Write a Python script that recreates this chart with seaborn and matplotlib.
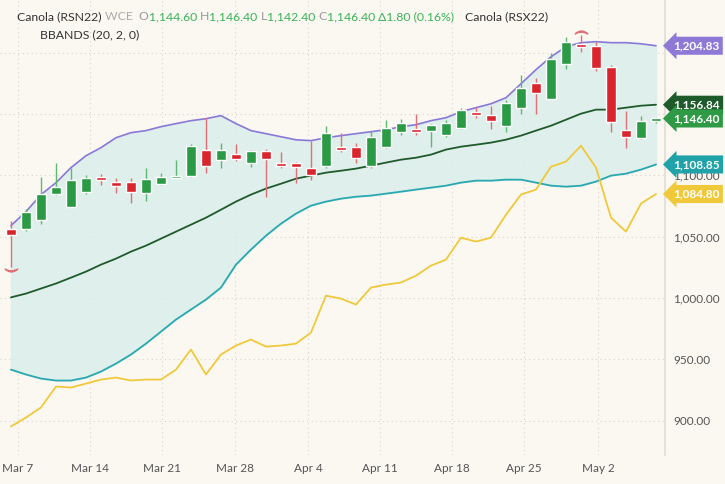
import matplotlib
matplotlib.use("Agg")
import matplotlib.pyplot as plt
import numpy as np
import pandas as pd
import seaborn as sns

# daily candles, Canola RSN22
opens = [1056.5, 1056.5, 1063.9, 1085.0, 1074.4, 1086.7, 1098.9, 1094.8, 1094.8, 1085.9,
         1093.2, 1098.0, 1099.7, 1120.9, 1112.8, 1117.6, 1110.3, 1120.1, 1110.3, 1110.3,
         1106.2, 1107.9, 1123.4, 1123.4, 1107.9, 1123.4, 1135.6, 1138.0, 1136.4, 1133.0,
         1138.8, 1151.9, 1149.4, 1140.5, 1155.0, 1175.5, 1162.5, 1191.0, 1207.0, 1205.7,
         1188.5, 1137.2, 1130.7, 1144.6]
closes = [1051.6, 1070.4, 1085.0, 1090.7, 1096.5, 1098.0, 1096.5, 1091.6, 1086.7, 1097.3,
          1098.9, 1099.7, 1124.0, 1107.9, 1120.9, 1113.6, 1120.1, 1113.6, 1107.9, 1107.0,
          1100.5, 1134.8, 1120.9, 1114.4, 1131.5, 1138.8, 1142.9, 1135.6, 1141.3, 1142.9,
          1153.5, 1149.4, 1144.5, 1159.2, 1171.4, 1167.3, 1195.0, 1209.0, 1204.8, 1187.7,
          1143.7, 1131.5, 1144.5, 1146.4]
highs = [1063.0, 1072.8, 1098.9, 1110.0, 1106.0, 1100.5, 1101.0, 1098.0, 1098.0, 1106.0,
         1102.0, 1112.8, 1125.8, 1147.0, 1126.6, 1125.8, 1121.0, 1121.7, 1119.0, 1111.0,
         1128.0, 1140.0, 1134.8, 1126.6, 1136.0, 1145.4, 1146.2, 1150.0, 1142.0, 1145.0,
         1155.0, 1156.0, 1156.8, 1161.7, 1182.0, 1179.6, 1200.0, 1213.0, 1214.6, 1209.0,
         1190.0, 1152.7, 1148.6, 1146.4]
lows = [1025.0, 1054.9, 1060.6, 1084.0, 1074.4, 1085.0, 1092.0, 1086.0, 1077.7, 1079.0,
        1092.0, 1098.0, 1099.0, 1102.0, 1106.0, 1112.0, 1107.0, 1082.6, 1106.0, 1094.0,
        1096.5, 1106.0, 1119.0, 1110.3, 1106.0, 1122.5, 1133.0, 1133.0, 1123.0, 1131.0,
        1138.0, 1147.0, 1138.0, 1135.6, 1150.2, 1150.2, 1162.0, 1187.0, 1200.8, 1185.0,
        1135.6, 1122.5, 1130.0, 1142.4]

# Bollinger bands (20, 2, 0)
bb_upper = [1059.0, 1070.4, 1084.3, 1094.0, 1106.3, 1116.0, 1122.6, 1130.7, 1134.8, 1136.5,
            1139.7, 1142.2, 1144.6, 1146.2, 1148.7, 1142.2, 1136.5, 1134.0, 1131.5, 1129.0,
            1128.3, 1130.7, 1132.4, 1134.0, 1135.6, 1137.2, 1139.7, 1141.3, 1144.6, 1147.0,
            1151.9, 1155.2, 1158.4, 1163.3, 1174.7, 1186.2, 1196.7, 1204.9, 1208.2, 1209.0,
            1208.2, 1208.2, 1207.3, 1205.7]
bb_middle = [1000.5, 1003.6, 1007.7, 1011.8, 1016.6, 1021.5, 1027.2, 1032.1, 1037.8, 1042.7,
             1048.4, 1054.1, 1059.8, 1065.5, 1072.0, 1078.6, 1084.3, 1089.2, 1093.2, 1097.3,
             1099.8, 1102.2, 1103.8, 1105.5, 1107.9, 1110.4, 1112.8, 1114.4, 1116.9, 1121.0,
             1123.4, 1125.0, 1126.7, 1129.1, 1132.4, 1136.5, 1140.5, 1145.4, 1150.3, 1153.6,
             1153.6, 1155.2, 1156.8, 1157.6]
bb_lower = [941.6, 937.6, 934.3, 932.7, 932.7, 935.1, 940.0, 946.5, 953.9, 962.8,
            972.6, 982.4, 990.6, 998.7, 1008.5, 1027.2, 1039.5, 1050.8, 1060.6, 1068.8,
            1075.3, 1078.6, 1081.0, 1082.6, 1083.5, 1085.1, 1086.7, 1088.4, 1090.0, 1091.6,
            1094.1, 1095.7, 1095.7, 1096.5, 1096.5, 1094.1, 1091.6, 1090.8, 1091.6, 1094.9,
            1099.8, 1101.4, 1104.7, 1108.9]

# Canola RSX22 (comparison)
rsx22 = [895.2, 902.5, 910.7, 927.8, 927.0, 930.2, 933.5, 935.1, 932.7, 933.5,
         933.5, 941.6, 958.0, 937.6, 953.9, 961.2, 966.1, 960.4, 961.2, 962.8,
         971.8, 1001.9, 999.5, 994.6, 1008.5, 1010.9, 1012.6, 1018.2, 1026.4, 1031.3,
         1049.2, 1046.0, 1049.2, 1067.9, 1084.3, 1088.4, 1107.1, 1111.2, 1124.2, 1106.3,
         1065.5, 1054.1, 1077.0, 1084.8]

week_labels = ["Mar 7", "Mar 14", "Mar 21", "Mar 28", "Apr 4", "Apr 11", "Apr 18", "Apr 25", "May 2"]
week_ticks = [0.47, 5.27, 10.07, 14.93, 19.8, 24.6, 29.4, 34.2, 39.13]
y_ticks = [900, 950, 1000, 1050, 1100, 1150, 1200]
y_labels = ["900.00", "950.00", "1,000.00", "1,050.00", "1,100.00", "", ""]  # upper ones hidden by tags

GREEN = "#2a9a45"
RED = "#d9262e"
BG = "#fbf8f2"

df = pd.DataFrame({"i": np.arange(len(opens)), "open": opens, "close": closes,
                   "high": highs, "low": lows, "upper": bb_upper, "middle": bb_middle,
                   "lower": bb_lower, "rsx": rsx22})

sns.set_theme(style="white", font="Lato")
fig = plt.figure(figsize=(7.25, 4.84), dpi=100, facecolor=BG)
ax = fig.add_axes([0, 0.06, 665 / 725, 0.94])
ax.set_facecolor(BG)

ax.fill_between(df["i"], df["lower"], df["upper"], color="#dcefeb", alpha=0.9, zorder=1)
sns.lineplot(data=df, x="i", y="upper", color="#8a78d8", lw=1.2, ax=ax, zorder=2)
sns.lineplot(data=df, x="i", y="middle", color="#1f5a2c", lw=1.3, ax=ax, zorder=2)
sns.lineplot(data=df, x="i", y="lower", color="#2aa8b0", lw=1.3, ax=ax, zorder=2)
sns.lineplot(data=df, x="i", y="rsx", color="#f0c93a", lw=1.3, ax=ax, zorder=2)

colors = [GREEN if c >= o else RED for o, c in zip(df["open"], df["close"])]
wick_colors = ["#5fb872" if c >= o else "#e07076" for o, c in zip(df["open"], df["close"])]
ax.vlines(df["i"], df["low"], df["high"], colors=wick_colors, lw=1, zorder=3)
bottoms = np.minimum(df["open"], df["close"])
heights = np.maximum(np.abs(df["close"] - df["open"]), 1.5)
ax.bar(df["i"], heights, bottom=bottoms, width=0.62, color=colors, zorder=4)

# small arcs marking the period low / high
ax.plot(0, df["low"].iloc[0] - 2, marker=r"$\smile$", ms=9, color="#e07076", zorder=5)
ax.plot(38, df["high"].iloc[38] + 2, marker=r"$\frown$", ms=9, color="#e07076", zorder=5)

ax.set_xlim(-0.73, 43.6)
ax.set_ylim(872, 1243)
ax.set_xlabel("")
ax.set_ylabel("")
ax.set_xticks(week_ticks)
ax.set_xticklabels(week_labels, fontsize=8.5, color="#555555")
ax.set_yticks(y_ticks)
ax.yaxis.tick_right()
ax.set_yticklabels(y_labels, fontsize=8.5, color="#555555")
ax.tick_params(length=0, pad=6)
ax.grid(True, ls=(0, (1, 3)), color="#d8d4cc", lw=0.8)
for s in ["top", "left", "bottom"]:
    ax.spines[s].set_visible(False)
ax.spines["right"].set_color("#e2ded6")

# right side price tags
tags = [(df["upper"].iloc[-1], "1,204.83", "#8e7ad6"),
        (1157.6, "1,156.84", "#1e5a2a"),
        (1146.4, "1,146.40", "#2e9a46"),
        (1108.9, "1,108.85", "#1fa3a8"),
        (1084.8, "1,084.80", "#f0c93a")]
for yv, txt, col in tags:
    ax.text(1.012, yv, txt, transform=ax.get_yaxis_transform(), fontsize=8.5,
            fontweight="bold", color="white", va="center", ha="left", zorder=10,
            clip_on=False,
            bbox=dict(boxstyle="larrow,pad=0.3", fc=col, ec="none"))

# header line, pieces placed one after another
parts = [("Canola (RSN22) ", "#333333"), ("WCE  ", "#aaaaaa"), ("O", "#999999"),
         ("1,144.60 ", "#3bb35a"), ("H", "#999999"), ("1,146.40 ", "#3bb35a"),
         ("L", "#999999"), ("1,142.40 ", "#3bb35a"), ("C", "#999999"),
         ("1,146.40 ", "#3bb35a"), ("\u03941.80 (0.16%)", "#3bb35a")]
fig.canvas.draw()
r = fig.canvas.get_renderer()
x_px = 17
for txt, col in parts:
    t = fig.text(x_px / 725, 1 - 17 / 484, txt, color=col, fontsize=8.8, va="center")
    x_px += t.get_window_extent(r).width
fig.text(465 / 725, 1 - 17 / 484, "Canola (RSX22)", color="#333333", fontsize=8.8, va="center")
fig.text(40 / 725, 1 - 35 / 484, "BBANDS (20, 2, 0)", color="#333333", fontsize=8.8, va="center")

fig.savefig("out.png", dpi=100, facecolor=BG)
